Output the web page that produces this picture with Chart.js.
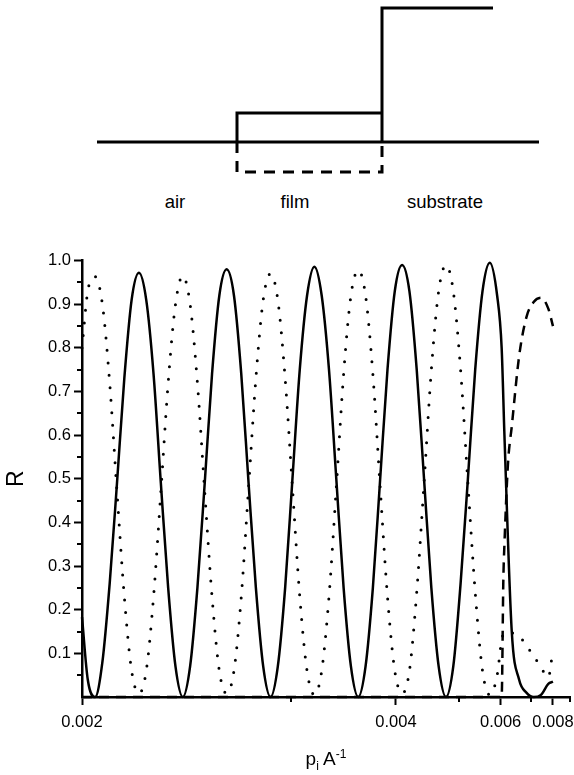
<!DOCTYPE html>
<html>
<head>
<meta charset="utf-8">
<script src="https://cdn.jsdelivr.net/npm/chart.js@4.4.0/dist/chart.umd.min.js"></script>
<style>
  body { margin: 0; background: #fff; }
  #wrap { position: relative; width: 574px; height: 775px; font-family: 'Liberation Sans', Arial, sans-serif; }
  #scheme { position: absolute; left: 0; top: 0; }
  #chart { position: absolute; left: 0; top: 0; }
  #xtitle { position: absolute; left: 226px; width: 200px; top: 749px; line-height: 20px;
            text-align: center; font-size: 19px; color: #000; }
  #xtitle sub, #xtitle sup { font-size: 12px; line-height: 0; }
</style>
</head>
<body>
<div id="wrap">
  <!-- layer sketch above the plot -->
  <svg id="scheme" width="574" height="230" xmlns="http://www.w3.org/2000/svg">
    <g fill="none" stroke="#000" stroke-width="3">
      <path d="M97 142 H539"/>
      <path d="M237 142 V113 H382"/>
      <path d="M382 142 V8 H493"/>
      <path d="M237 142 V172 H382 V142" stroke-dasharray="11 8"/>
    </g>
    <g font-family="'Liberation Sans', Arial, sans-serif" font-size="18.5" text-anchor="middle" fill="#000">
      <text x="175" y="208">air</text>
      <text x="295" y="208">film</text>
      <text x="445" y="208">substrate</text>
    </g>
  </svg>
  <canvas id="chart" width="574" height="775"></canvas>
  <div id="xtitle">p<sub>i</sub> A<sup>-1</sup></div>
</div>
<script>
// x positions (p, in A^-1) shared by the solid and dotted curves
var pAxis = [0.002, 0.0020185,
  0.0020425, 0.0020671, 0.0020922, 0.0021180, 0.0021445, 0.0021716, 0.0021994, 0.0022279, 0.0022572, 0.0022872, 0.0023181, 0.0023498,
  0.0023824, 0.0024159, 0.0024503, 0.0024858, 0.0025223, 0.0025599, 0.0025986, 0.0026385, 0.0026797, 0.0027221, 0.0027659, 0.0028112,
  0.0028580, 0.0029063, 0.0029564, 0.0030081, 0.0030618, 0.0031173, 0.0031749, 0.0032347, 0.0032967, 0.0033612, 0.0034283, 0.0034981,
  0.0035709, 0.0036467, 0.0037258, 0.0038084, 0.0038947, 0.0039850, 0.0040796, 0.0041789, 0.0042830, 0.0043925, 0.0045080, 0.0046294,
  0.0047576, 0.0048931, 0.0050365, 0.0051886, 0.0053502, 0.0055221, 0.0057055, 0.0059015,
  0.0060295,
  0.0061113, 0.0063371, 0.0065798, 0.0068418, 0.0071256, 0.0074339, 0.0077700,
  0.008];

// solid curve
var solidR = [0.183, 0.04,
  0, 0.08, 0.26, 0.49, 0.73, 0.91, 0.972, 0.91, 0.74, 0.49, 0.25, 0.07,
  0, 0.07, 0.25, 0.49, 0.74, 0.92, 0.98, 0.92, 0.74, 0.49, 0.25, 0.07,
  0, 0.07, 0.25, 0.5, 0.75, 0.92, 0.986, 0.92, 0.75, 0.5, 0.25, 0.07,
  0, 0.07, 0.25, 0.5, 0.75, 0.93, 0.99, 0.93, 0.75, 0.5, 0.25, 0.07,
  0, 0.07, 0.26, 0.5, 0.75, 0.93, 0.995, 0.92,
  0.80,
  0.60, 0.15, 0.04, 0.01, 0, 0.005, 0.03,
  0.035];

// dotted curve
var dottedR = [0.80, 0.93,
  0.963, 0.90, 0.72, 0.47, 0.23, 0.06, 0.008, 0.06, 0.23, 0.47, 0.72, 0.90,
  0.965, 0.90, 0.72, 0.47, 0.23, 0.06, 0.008, 0.06, 0.23, 0.48, 0.73, 0.91,
  0.97, 0.91, 0.73, 0.48, 0.23, 0.06, 0.005, 0.06, 0.23, 0.48, 0.74, 0.92,
  0.978, 0.92, 0.74, 0.48, 0.23, 0.06, 0.008, 0.06, 0.24, 0.49, 0.75, 0.93,
  0.99, 0.93, 0.75, 0.49, 0.24, 0.06, 0.005, 0.05,
  0.13,
  0.148, 0.147, 0.14, 0.118, 0.094, 0.068, 0.045,
  0.11];

// dashed curve has its own x positions
var dashedP = [0.002, 0.0059015, 0.0060295, 0.0060790, 0.0061113, 0.0062189, 0.0063371, 0.0065798, 0.0068418, 0.0071256, 0.0074339, 0.0077700, 0.008];
var dashedR = [0, 0, 0, 0.27, 0.35, 0.535, 0.62, 0.78, 0.87, 0.905, 0.915, 0.89, 0.85];

// ticks
var xLabelTicks = [0.002, 0.004, 0.006, 0.008];
var xMinorTicks = [0.003, 0.005, 0.007, 0.009];
var yLabelTicks = [0.1, 0.2, 0.3, 0.4, 0.5, 0.6, 0.7, 0.8, 0.9, 1.0];
var yMinorTicks = [0.05, 0.15, 0.25, 0.35, 0.45, 0.55, 0.65, 0.75, 0.85, 0.95];

var FONT = "'Liberation Sans', Arial, sans-serif";

// the x axis is linear in 1/p, so plot against 1/p and label with p
function to_points(ps, rs){
  return ps.map(function(p, i){
    return {x: 1 / p, y: rs[i]};
  });
}

// short unlabelled ticks, placed by the chart's own scales
var minorTicks = {
  id: 'minorTicks',
  afterDraw: function(chart){
    var ctx = chart.ctx;
    var xs = chart.scales.x;
    var ys = chart.scales.y;
    ctx.save();
    ctx.strokeStyle = '#000';
    ctx.lineWidth = 2;
    ctx.beginPath();
    xMinorTicks.forEach(function(p){
      var px = Math.round(xs.getPixelForValue(1 / p));
      ctx.moveTo(px, xs.top);
      ctx.lineTo(px, xs.top + 5);
    });
    yMinorTicks.forEach(function(v){
      var py = Math.round(ys.getPixelForValue(v));
      ctx.moveTo(ys.right - 5, py);
      ctx.lineTo(ys.right, py);
    });
    ctx.stroke();
    ctx.restore();
  }
};

Chart.defaults.font.family = FONT;
Chart.defaults.color = '#000';

new Chart(document.getElementById('chart'), {
  type: 'scatter',
  data: {
    datasets: [{
      data: to_points(pAxis, solidR),
      showLine: true,
      borderColor: '#000',
      borderWidth: 2.5,
      pointRadius: 0,
      cubicInterpolationMode: 'monotone',
      clip: 4
    }, {
      data: to_points(pAxis, dottedR),
      showLine: true,
      borderColor: '#000',
      borderWidth: 3,
      borderDash: [0, 12.5],
      borderCapStyle: 'round',
      pointRadius: 0,
      cubicInterpolationMode: 'monotone',
      clip: 4
    }, {
      data: to_points(dashedP, dashedR),
      showLine: true,
      borderColor: '#000',
      borderWidth: 2.5,
      borderDash: [10, 7],
      pointRadius: 0,
      cubicInterpolationMode: 'monotone',
      clip: 4
    }]
  },
  options: {
    responsive: false,
    animation: false,
    devicePixelRatio: 1,
    layout: { padding: { top: 260.6, right: 3.6, bottom: 0, left: 0 } },
    plugins: { legend: { display: false }, tooltip: { enabled: false } },
    scales: {
      x: {
        type: 'linear',
        reverse: true,
        min: 1 / 0.009,
        max: 1 / 0.002,
        afterBuildTicks: function(s){
          s.ticks = xLabelTicks.map(function(p){ return {value: 1 / p}; });
        },
        // fixed box; the "0.008" label may reach into the right margin
        afterFit: function(s){ s.height = 78; s.paddingLeft = 0; s.paddingRight = 0; },
        ticks: {
          autoSkip: false,
          maxRotation: 0,
          padding: 8,
          font: { size: 16.5 },
          callback: function(v){ return (1 / v).toFixed(3); }
        },
        grid: { drawOnChartArea: false, tickLength: 8, tickWidth: 2, tickColor: '#000' },
        border: { color: '#000', width: 2.5 }
      },
      y: {
        min: 0,
        max: 1,
        afterBuildTicks: function(s){
          s.ticks = yLabelTicks.map(function(v){ return {value: v}; });
        },
        afterFit: function(s){ s.width = 82; },
        ticks: {
          padding: 3,
          font: { size: 16.5 },
          callback: function(v){ return v.toFixed(1); }
        },
        grid: { drawOnChartArea: false, tickLength: 8, tickWidth: 2, tickColor: '#000' },
        border: { color: '#000', width: 2.5 },
        title: { display: true, text: 'R', font: { size: 23 }, padding: { top: 3, bottom: 0 } }
      }
    }
  },
  plugins: [minorTicks]
});
</script>
</body>
</html>
